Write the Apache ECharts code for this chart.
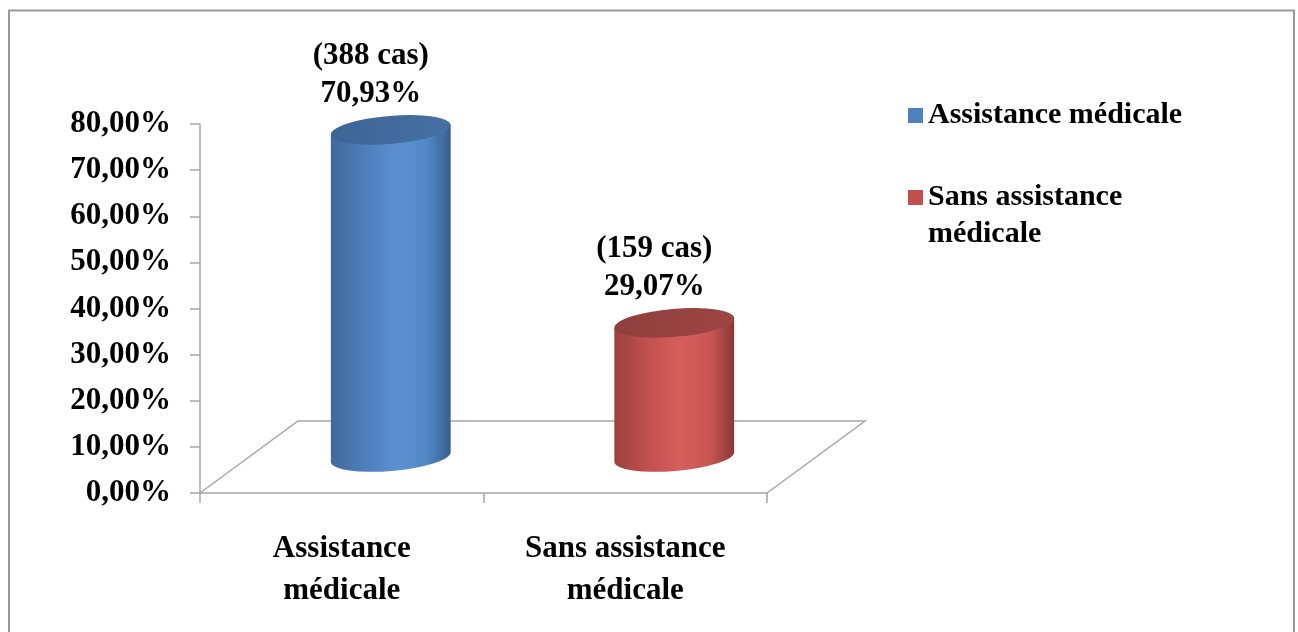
<!DOCTYPE html>
<html>
<head>
<meta charset="utf-8">
<script src="https://cdn.jsdelivr.net/npm/echarts@6/dist/echarts.min.js"></script>
<style>
html, body { margin: 0; padding: 0; background: #fff; }
#chart { width: 1298px; height: 632px; }
</style>
</head>
<body>
<div id="chart"></div>
<script>
// data
var categories = ['Assistance\nmédicale', 'Sans assistance\nmédicale']
var seriesNames = ['Assistance médicale', 'Sans assistance médicale']
var legendLabels = ['Assistance médicale', 'Sans assistance\nmédicale']
var percents = [70.93, 29.07]
var cases = [388, 159]
var yMin = 0
var yMax = 80
var yStep = 10

var FONT = '"Liberation Serif", "Times New Roman", serif'
var GRAY = '#a6a6a6'
// floor depth (3d look), in pixels
var DEPTH_X = 98
var DEPTH_Y = -72
var TILT = 0.083

var colors = [
  { flat: '#4f81bd', body: ['#41699b', '#4f7fbd', '#5b90d0', '#5089c6', '#395e8d'], top: ['#3d6596', '#466fa3'] },
  { flat: '#c0504d', body: ['#9c403e', '#c45250', '#d65e5c', '#c85653', '#8a3836'], top: ['#8f3e3c', '#9e4644'] }
]

function fmtPct (v) {
  return v.toFixed(2).replace('.', ',') + '%'
}

function ellipsePoint (cx, cy, rx, side) {
  return [cx + side * rx * Math.cos(TILT), cy - side * rx * Math.sin(TILT)]
}

function renderCylinder (params, api) {
  var idx = params.seriesIndex - 1
  var cat = api.value(0)
  var val = api.value(1)
  var band = api.size([1, 0])[0]
  var base = api.coord([cat, 0])
  var top = api.coord([cat, val])
  var cx = base[0] + DEPTH_X / 2
  var by = base[1] + DEPTH_Y / 2
  var ty = top[1] + DEPTH_Y / 2
  var rx = band * 0.212
  var ry = 14
  var deg = -TILT * 180 / Math.PI
  var lt = ellipsePoint(cx, ty, rx, -1)
  var rt = ellipsePoint(cx, ty, rx, 1)
  var lb = ellipsePoint(cx, by, rx, -1)
  var rb = ellipsePoint(cx, by, rx, 1)
  var c = colors[idx]
  var bodyPath = 'M' + lt[0] + ' ' + lt[1] + ' L' + lb[0] + ' ' + lb[1] +
    ' A' + rx + ' ' + ry + ' ' + deg + ' 0 0 ' + rb[0] + ' ' + rb[1] +
    ' L' + rt[0] + ' ' + rt[1] + ' Z'
  var topPath = 'M' + lt[0] + ' ' + lt[1] +
    ' A' + rx + ' ' + ry + ' ' + deg + ' 0 1 ' + rt[0] + ' ' + rt[1] +
    ' A' + rx + ' ' + ry + ' ' + deg + ' 0 1 ' + lt[0] + ' ' + lt[1] + ' Z'
  return {
    type: 'group',
    children: [
      {
        type: 'path',
        shape: { pathData: bodyPath },
        style: {
          fill: {
            type: 'linear', x: 0, y: 0, x2: 1, y2: 0,
            colorStops: [
              { offset: 0, color: c.body[0] },
              { offset: 0.3, color: c.body[1] },
              { offset: 0.55, color: c.body[2] },
              { offset: 0.8, color: c.body[3] },
              { offset: 1, color: c.body[4] }
            ]
          }
        }
      },
      {
        type: 'path',
        shape: { pathData: topPath },
        style: {
          fill: {
            type: 'linear', x: 0, y: 0, x2: 1, y2: 0,
            colorStops: [
              { offset: 0, color: c.top[0] },
              { offset: 1, color: c.top[1] }
            ]
          }
        }
      },
      {
        type: 'text',
        style: {
          text: '(' + cases[cat] + ' cas)\n' + fmtPct(val),
          x: cx - 20,
          y: ty - 55,
          align: 'center',
          verticalAlign: 'middle',
          font: 'bold 31px ' + FONT,
          lineHeight: 38,
          fill: '#000'
        }
      }
    ]
  }
}

function renderFloor (params, api) {
  var band = api.size([1, 0])[0]
  var c0 = api.coord([0, 0])
  var left = c0[0] - band / 2
  var right = left + band * categories.length
  var y0 = c0[1]
  return {
    type: 'polyline',
    shape: {
      points: [
        [left, y0],
        [left + DEPTH_X, y0 + DEPTH_Y],
        [right + DEPTH_X, y0 + DEPTH_Y],
        [right, y0]
      ]
    },
    style: { stroke: GRAY, lineWidth: 1.5, fill: null }
  }
}

var chart = echarts.init(document.getElementById('chart'))

var series = [{
  name: 'floor',
  type: 'custom',
  renderItem: renderFloor,
  data: [[0, 0]],
  z: 1,
  silent: true
}]
seriesNames.forEach(function (name, i) {
  series.push({
    name: name,
    type: 'custom',
    renderItem: renderCylinder,
    itemStyle: { color: colors[i].flat },
    data: [[i, percents[i]]],
    z: 2
  })
})

chart.setOption({
  animation: false,
  backgroundColor: '#fff',
  grid: { left: 200, top: 124, width: 567, height: 369 },
  graphic: [{
    type: 'rect',
    shape: { x: 9, y: 10.5, width: 1285, height: 640 },
    style: { fill: null, stroke: '#999', lineWidth: 2 },
    silent: true
  }],
  legend: [
    {
      data: [seriesNames[0]],
      left: 908,
      top: 97,
      padding: 0,
      itemWidth: 15,
      itemHeight: 15,
      icon: 'rect',
      formatter: function () { return legendLabels[0] },
      textStyle: { fontFamily: FONT, fontWeight: 'bold', fontSize: 30, lineHeight: 37, color: '#000' }
    },
    {
      data: [seriesNames[1]],
      left: 908,
      top: 142,
      padding: 0,
      itemWidth: 15,
      itemHeight: 15,
      icon: 'rect',
      // empty first line keeps the first text line level with the icon
      formatter: function () { return '\n' + legendLabels[1] },
      textStyle: { fontFamily: FONT, fontWeight: 'bold', fontSize: 30, lineHeight: 37, color: '#000' }
    }
  ],
  xAxis: {
    type: 'category',
    data: categories,
    axisLine: { lineStyle: { color: GRAY, width: 1.5 } },
    axisTick: { show: true, alignWithLabel: false, length: 10, lineStyle: { color: GRAY, width: 1.5 } },
    axisLabel: {
      interval: 0,
      margin: 35,
      fontFamily: FONT,
      fontWeight: 'bold',
      fontSize: 31,
      lineHeight: 42,
      color: '#000'
    }
  },
  yAxis: {
    type: 'value',
    min: yMin,
    max: yMax,
    interval: yStep,
    splitLine: { show: false },
    axisLine: { show: true, lineStyle: { color: GRAY, width: 1.5 } },
    axisTick: { show: true, length: 10, lineStyle: { color: GRAY, width: 1.5 } },
    axisLabel: {
      margin: 29,
      fontFamily: FONT,
      fontWeight: 'bold',
      fontSize: 31,
      color: '#000',
      formatter: fmtPct
    }
  },
  series: series
})
</script>
</body>
</html>
